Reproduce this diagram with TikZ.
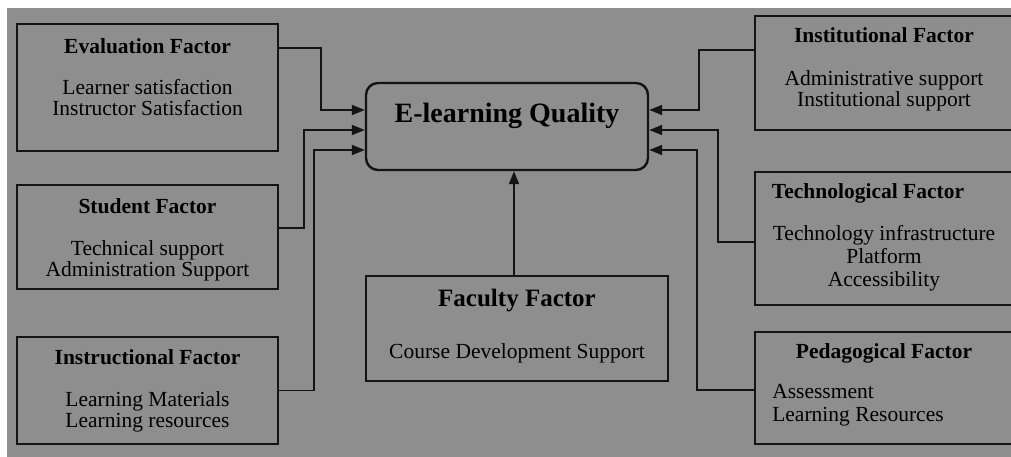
\documentclass[tikz,border=0pt]{standalone}
\usepackage{fontspec}
\setmainfont{Liberation Serif}
\usepackage{xcolor}
\definecolor{bggray}{HTML}{8E8E8E}
\definecolor{ink}{HTML}{141414}
\usepackage{tikz}
\usetikzlibrary{arrows.meta, positioning}
\tikzset{
    factor/.style={
        rectangle, draw=ink, line width=1.8pt,
        inner sep=0pt
    },
    quality/.style={
        rectangle, draw=ink, line width=2.4pt,
        rounded corners=12pt, inner sep=0pt,
        minimum width=282pt,
        font=\bfseries\fontsize{28}{30}\selectfont
    },
    heading/.style={
        inner sep=0pt, anchor=base,
        font=\bfseries\fontsize{21.5}{22}\selectfont
    },
    items/.style={
        inner sep=0pt, align=center,
        font=\fontsize{21.5}{21.5}\selectfont
    },
    conn/.style={
        draw=ink, line width=1.8pt,
        -{Triangle[length=13pt, width=10pt]}
    },
}

\begin{document}
\begin{tikzpicture}[x=1pt, y=-1pt]
            % page, grey ground
            \useasboundingbox (0,0) rectangle (1011,457);
            \clip (0,0) rectangle (1011,457);
            \fill[bggray] (7,8) rectangle (1011,457);

            % Draw centre box
            \node[quality, text height=40pt, text depth=47pt] (elq) at (507,126.5) {E-learning Quality};

            % Draw left factors
            \node[factor, minimum width=261pt, minimum height=127pt] (eval) at (147.5,87.5) {};
            \node[heading] (evalhd) at ([yshift=-30pt]eval.north) {Evaluation Factor};
            \node[items, below=56pt of eval.north] (evalit) {Learner satisfaction\\Instructor Satisfaction};

            \node[factor, minimum width=261pt, minimum height=104pt] (stud) at (147.5,237) {};
            \node[heading] (studhd) at ([yshift=-29pt]stud.north) {Student Factor};
            \node[items, below=56pt of stud.north] (studit) {Technical support\\Administration Support};

            \node[factor, minimum width=261pt, minimum height=107pt] (instr) at (147.5,390.5) {};
            \node[heading] (instrhd) at ([yshift=-28pt]instr.north) {Instructional Factor};
            \node[items, below=55pt of instr.north] (instrit) {Learning Materials\\Learning resources};

            % Draw right factors
            \node[factor, minimum width=258pt, minimum height=114pt] (inst) at (884,73) {};
            \node[heading] (insthd) at ([yshift=-27pt]inst.north) {Institutional Factor};
            \node[items, below=55pt of inst.north] (instit) {Administrative support\\Institutional support};

            \node[factor, minimum width=258pt, minimum height=133pt] (tech) at (884,238.5) {};
            \node[heading] (techhd) at ([xshift=-16pt, yshift=-27pt]tech.north) {Technological Factor};
            \node[items, below=54pt of tech.north, font=\fontsize{21.5}{23}\selectfont] (techit) {Technology infrastructure\\Platform\\Accessibility};

            \node[factor, minimum width=258pt, minimum height=112pt] (ped) at (884,388) {};
            \node[heading] (pedhd) at ([yshift=-27pt]ped.north) {Pedagogical Factor};
            \node[items, align=left, below right=53pt and 18pt of ped.north west, font=\fontsize{21.5}{23}\selectfont] (pedit) {Assessment\\Learning Resources};

            % Draw faculty factor
            \node[factor, minimum width=302pt, minimum height=105pt] (fac) at (517,328.5) {};
            \node[heading, font=\bfseries\fontsize{25}{26}\selectfont] (fachd) at ([yshift=-31pt]fac.north) {Faculty Factor};
            \node[items, anchor=base] (facit) at ([yshift=-83pt]fac.north) {Course Development Support};

            % Connections
            \draw[conn] ([yshift=-25pt]eval.north east) -- ++(42,0) |- ([yshift=16.5pt]elq.west);
            \draw[conn] ([yshift=9pt]stud.east) -- ++(25,0) |- ([yshift=-3.5pt]elq.west);
            \draw[conn] (instr.east) -- ++(35,0) |- ([yshift=-23.5pt]elq.west);
            \draw[conn] ([yshift=23pt]inst.west) -- ++(-55,0) |- ([yshift=16.5pt]elq.east);
            \draw[conn] ([yshift=-3.5pt]tech.west) -- ++(-36,0) |- ([yshift=-3.5pt]elq.east);
            \draw[conn] ([yshift=-2pt]ped.west) -- ++(-57,0) |- ([yshift=-23.5pt]elq.east);
            \draw[conn] ([xshift=-3pt]fac.north) -- ([xshift=-3pt]fac.north |- elq.south);

        \end{tikzpicture}
\end{document}
